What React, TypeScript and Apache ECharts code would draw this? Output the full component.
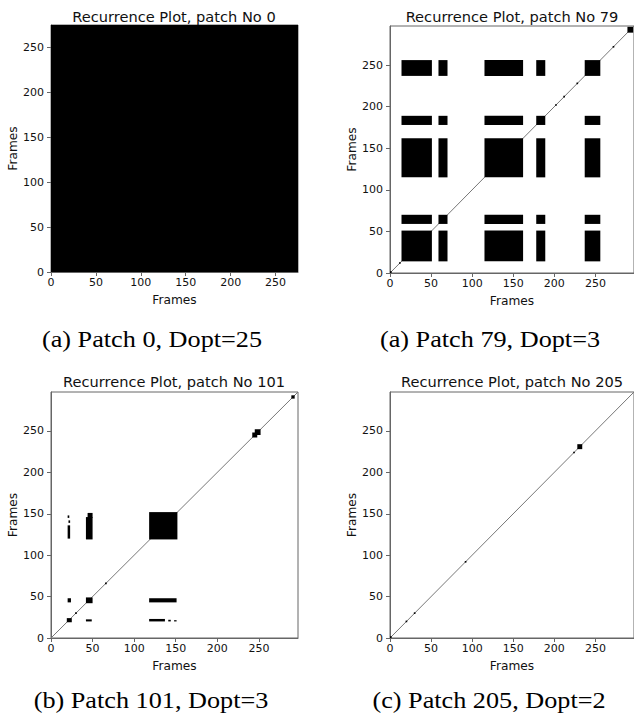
import React, { useEffect, useRef } from 'react';
import * as echarts from 'echarts';

// ---------- data ----------
const tickValues = [0, 50, 100, 150, 200, 250];
const panelTitles = [
  'Recurrence Plot, patch No 0',
  'Recurrence Plot, patch No 79',
  'Recurrence Plot, patch No 101',
  'Recurrence Plot, patch No 205',
];
const captions = [
  '(a) Patch 0, Dopt=25',
  '(a) Patch 79, Dopt=3',
  '(b) Patch 101, Dopt=3',
  '(c) Patch 205, Dopt=2',
];
const axisName = 'Frames';
const frameCounts = [275, 297, 297, 297];
const showDiagonal = [false, true, true, true];

// recurrence blocks: [x0, x1, y0, y1]
const patch0Blocks = [[0, 275, 0, 275]];

// patch 79: recurrent segments (every pair of segments recurs)
const patch79Segments = [
  [14, 51],
  [59, 70],
  [115, 162],
  [178, 189],
  [237, 256],
];
// small recurrences along the main diagonal: [from, to]
const patch79Dots = [
  [0, 2],
  [11, 13],
  [201, 203],
  [211, 213],
  [227, 229],
  [271, 273],
  [289, 296],
];

const patch101Blocks = [
  [118, 152, 119, 152],
  [42, 50, 119, 146],
  [44, 50, 145, 151],
  [20, 23, 120, 136],
  [20, 22, 145, 148],
  [21, 23, 139, 142],
  [118, 151, 43, 48],
  [118, 137, 20, 23],
  [141, 144, 20, 22],
  [148, 151, 20, 21.5],
  [42, 50, 42, 49],
  [42, 49, 20, 22.5],
  [20, 24, 43, 48],
  [19, 25, 19, 24],
  [29, 31, 29, 31],
  [65, 67, 65, 67],
  [242, 248, 242, 248],
  [245, 252, 245, 252],
  [289, 293, 289, 293],
];

const patch205Dots = [
  [0, 2],
  [19, 21],
  [29, 31],
  [91, 93],
  [223, 225],
  [228, 234],
];

// ---------- build ----------
const dotsToBlocks = (dots: number[][]) => dots.map(([a, b]) => [a, b, a, b]);
const segmentsToBlocks = (segs: number[][]) => {
  const out: number[][] = [];
  segs.forEach((sx) => segs.forEach((sy) => out.push([sx[0], sx[1], sy[0], sy[1]])));
  return out;
};

const panelBlocks = [
  patch0Blocks,
  [...segmentsToBlocks(patch79Segments), ...dotsToBlocks(patch79Dots)],
  patch101Blocks,
  dotsToBlocks(patch205Dots),
];

const grids = [
  { left: 51, top: 25, width: 247, height: 247 },
  { left: 390, top: 26, width: 247, height: 247 },
  { left: 51, top: 392, width: 247, height: 246 },
  { left: 390, top: 392, width: 247, height: 246 },
];
const titlePos = [
  [174, 16],
  [512, 16],
  [174, 381],
  [512, 381],
];
const captionPos = [
  [152, 339],
  [490, 339],
  [151, 700],
  [489, 700],
];

const SANS = '"DejaVu Sans", sans-serif';
const SERIF = '"Liberation Serif", "Times New Roman", serif';
const SPINE = '#666';
const TEXT = '#111';

export default function App() {
  const ref = useRef<HTMLDivElement>(null);
  useEffect(() => {
    if (!ref.current) return;
    const chart = echarts.init(ref.current, undefined, { renderer: 'svg' });

    const xAxis = grids.map((_, i) => ({
      type: 'value',
      gridIndex: i,
      min: 0,
      max: frameCounts[i],
      name: axisName,
      nameLocation: 'middle',
      nameGap: 22,
      nameTextStyle: { fontSize: 12.2, fontFamily: SANS, color: TEXT },
      axisLine: { show: true, onZero: false, lineStyle: { color: SPINE, width: 1 } },
      axisTick: { show: true, length: 4, customValues: tickValues, lineStyle: { color: SPINE } },
      axisLabel: { customValues: tickValues, fontSize: 11, fontFamily: SANS, color: TEXT, margin: 5 },
      splitLine: { show: false },
    }));
    const yAxis = grids.map((_, i) => ({
      type: 'value',
      gridIndex: i,
      min: 0,
      max: frameCounts[i],
      name: axisName,
      nameLocation: 'middle',
      nameGap: 31,
      nameTextStyle: { fontSize: 12.2, fontFamily: SANS, color: TEXT },
      axisLine: { show: true, onZero: false, lineStyle: { color: SPINE, width: 1 } },
      axisTick: { show: true, length: 4, customValues: tickValues, lineStyle: { color: SPINE } },
      axisLabel: { customValues: tickValues, fontSize: 11, fontFamily: SANS, color: TEXT, margin: 7 },
      splitLine: { show: false },
    }));

    const series: any[] = [];
    grids.forEach((_, i) => {
      if (showDiagonal[i]) {
        series.push({
          type: 'line',
          xAxisIndex: i,
          yAxisIndex: i,
          data: [
            [0, 0],
            [frameCounts[i], frameCounts[i]],
          ],
          symbol: 'none',
          lineStyle: { color: '#777', width: 1 },
          z: 2,
        });
      }
      series.push({
        type: 'custom',
        xAxisIndex: i,
        yAxisIndex: i,
        clip: true,
        z: 3,
        encode: { x: [0, 1], y: [2, 3] },
        data: panelBlocks[i],
        renderItem: (params: any, api: any) => {
          const p0 = api.coord([api.value(0), api.value(3)]);
          const p1 = api.coord([api.value(1), api.value(2)]);
          return {
            type: 'rect',
            shape: { x: p0[0], y: p0[1], width: p1[0] - p0[0], height: p1[1] - p0[1] },
            style: { fill: '#000' },
          };
        },
      });
    });

    const graphic: any[] = [];
    panelTitles.forEach((t, i) => {
      graphic.push({
        type: 'text',
        x: titlePos[i][0],
        y: titlePos[i][1],
        style: {
          text: t,
          fontSize: 14.6,
          fontFamily: SANS,
          fill: TEXT,
          align: 'center',
          verticalAlign: 'middle',
        },
      });
    });
    captions.forEach((t, i) => {
      graphic.push({
        type: 'text',
        x: captionPos[i][0],
        y: captionPos[i][1],
        scaleX: 1.14,
        style: {
          text: t,
          fontSize: 23,
          fontFamily: SERIF,
          fill: '#000',
          align: 'center',
          verticalAlign: 'middle',
        },
      });
    });

    chart.setOption({
      animation: false,
      backgroundColor: '#fff',
      grid: grids.map((g) => ({
        ...g,
        show: true,
        borderColor: SPINE,
        borderWidth: 1,
        backgroundColor: 'transparent',
        containLabel: false,
      })),
      xAxis,
      yAxis,
      series,
      graphic,
    });
    return () => chart.dispose();
  }, []);
  return (
    <div
      ref={ref}
      style={{ position: 'absolute', left: 0, top: 0, width: 634, height: 717, background: '#fff' }}
    />
  );
}
